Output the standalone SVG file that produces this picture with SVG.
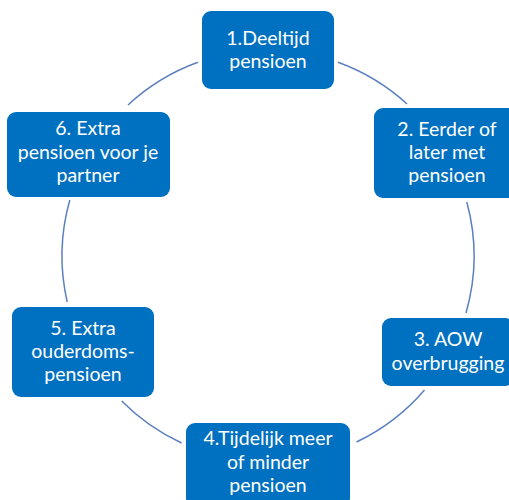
<svg xmlns="http://www.w3.org/2000/svg" width="509" height="500" viewBox="0 0 509 500">
<style>
.box{fill:#0070c0}
.lbl{font-family:Lato,"Liberation Sans",sans-serif;font-size:19.5px;fill:#ffffff;text-anchor:middle}
.arc{fill:none;stroke:#5b7fc0;stroke-width:1.5}
</style>
<rect width="509" height="500" fill="#ffffff"/>
<g id="connectors">
<path class="arc" d="M338,62.3 A206,206 0 0 1 407,104"/>
<path class="arc" d="M466.8,202 A206,206 0 0 1 466,313"/>
<path class="arc" d="M424.5,390 A206,206 0 0 1 356.5,442"/>
<path class="arc" d="M181.6,443 A206,206 0 0 1 121.7,401"/>
<path class="arc" d="M67.2,302 A206,206 0 0 1 69.8,200"/>
<path class="arc" d="M128,105 A206,206 0 0 1 197.9,62.3"/>
</g>
<g id="node1">
<rect class="box" x="202" y="11" width="132" height="78" rx="9"/>
<text class="lbl" x="268" y="45">1.Deeltijd</text>
<text class="lbl" x="268" y="68">pensioen</text>
</g>
<g id="node2">
<rect class="box" x="374" y="108" width="146" height="90" rx="9"/>
<text class="lbl" x="447" y="136">2. Eerder of</text>
<text class="lbl" x="447" y="159">later met</text>
<text class="lbl" x="447" y="182">pensioen</text>
</g>
<g id="node3">
<rect class="box" x="382" y="318" width="132" height="68" rx="9"/>
<text class="lbl" x="448" y="346">3. AOW</text>
<text class="lbl" x="448" y="370">overbrugging</text>
</g>
<g id="node4">
<rect class="box" x="186" y="423" width="164" height="84" rx="9"/>
<text class="lbl" x="268" y="445">4.Tijdelijk meer</text>
<text class="lbl" x="268" y="469">of minder</text>
<text class="lbl" x="268" y="492">pensioen</text>
</g>
<g id="node5">
<rect class="box" x="12" y="307" width="142" height="90" rx="9"/>
<text class="lbl" x="83" y="335">5. Extra</text>
<text class="lbl" x="83" y="358">ouderdoms-</text>
<text class="lbl" x="83" y="381">pensioen</text>
</g>
<g id="node6">
<rect class="box" x="7" y="112" width="163" height="85" rx="9"/>
<text class="lbl" x="88" y="135">6. Extra</text>
<text class="lbl" x="88" y="159">pensioen voor je</text>
<text class="lbl" x="88" y="182">partner</text>
</g>
</svg>
